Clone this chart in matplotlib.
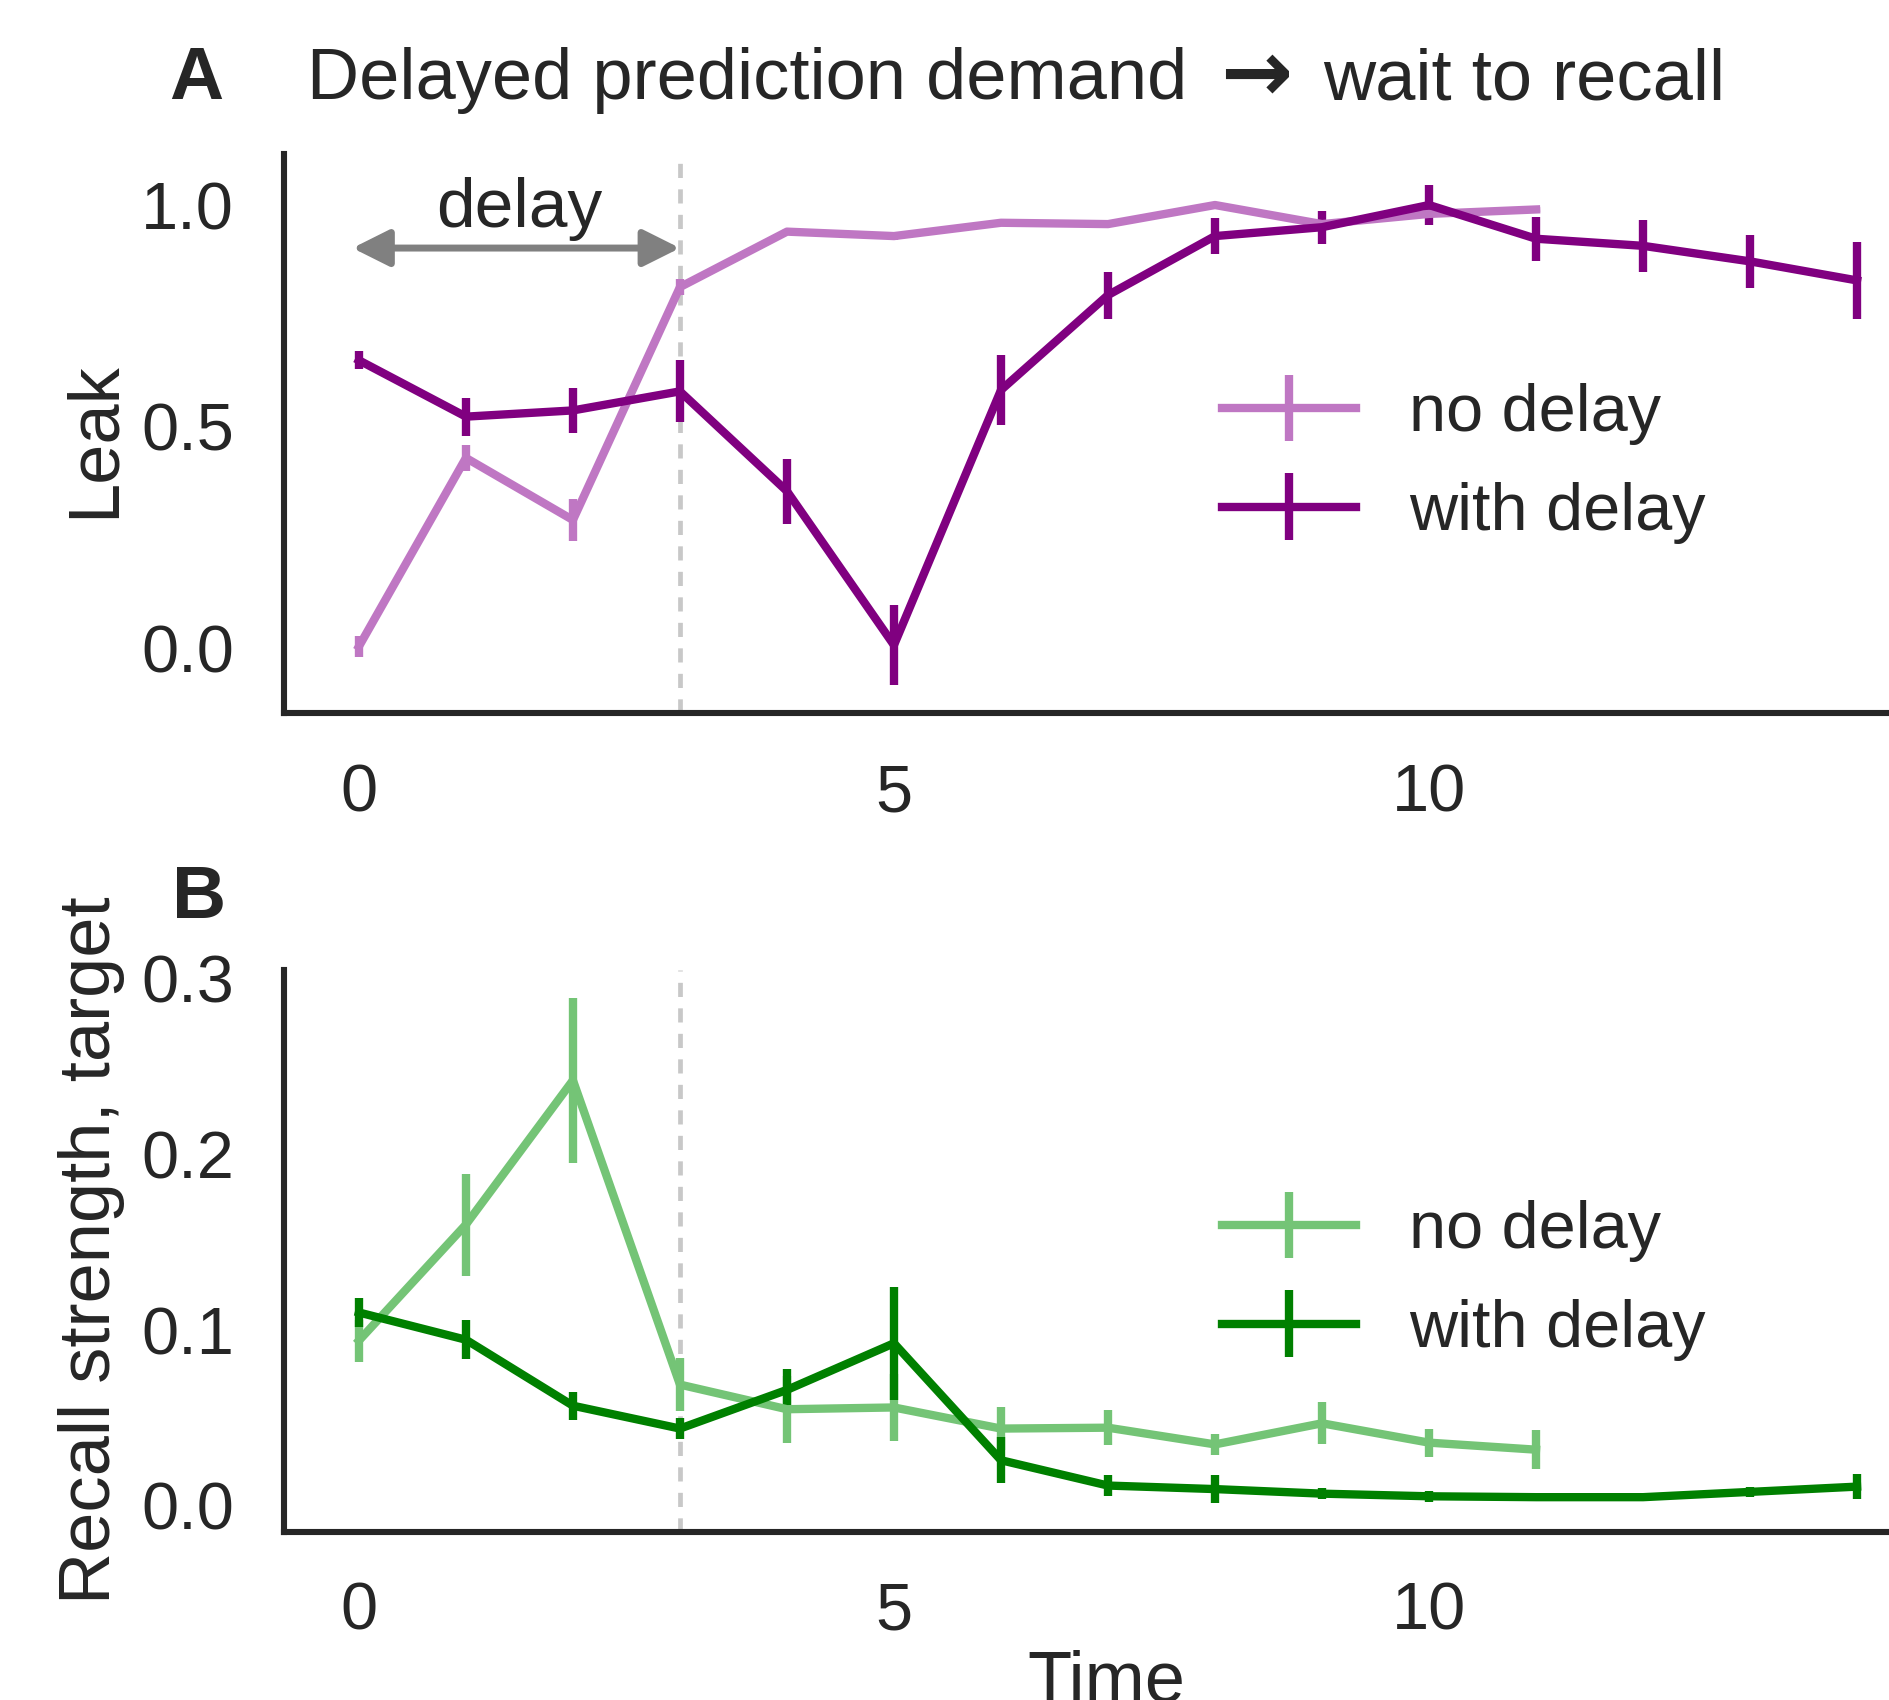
import matplotlib
matplotlib.use("Agg")
import matplotlib.pyplot as plt
import numpy as np

# data
t_nodelay = list(range(12))
t_delay = list(range(15))

leak_nodelay = [0.005, 0.43, 0.29, 0.815, 0.94, 0.93, 0.96, 0.957, 1.0, 0.957, 0.98, 0.99]
leak_nodelay_err = [0.023, 0.03, 0.047, 0.018, 0.005, 0.008, 0.005, 0.005, 0.005, 0.005, 0.01, 0.005]
leak_delay = [0.65, 0.523, 0.537, 0.58, 0.355, 0.008, 0.583, 0.797, 0.93, 0.95, 1.0, 0.924, 0.908, 0.873, 0.83]
leak_delay_err = [0.02, 0.043, 0.05, 0.07, 0.073, 0.09, 0.078, 0.053, 0.04, 0.037, 0.045, 0.05, 0.058, 0.06, 0.087]

recall_nodelay = [0.094, 0.16, 0.242, 0.069, 0.055, 0.056, 0.044, 0.0445, 0.035, 0.047, 0.036, 0.032]
recall_nodelay_err = [0.012, 0.029, 0.047, 0.015, 0.019, 0.019, 0.012, 0.01, 0.006, 0.012, 0.008, 0.011]
recall_delay = [0.11, 0.0945, 0.057, 0.044, 0.066, 0.0925, 0.026, 0.0116, 0.0096, 0.007, 0.0055, 0.005, 0.005, 0.008, 0.011]
recall_delay_err = [0.008, 0.011, 0.008, 0.006, 0.012, 0.032, 0.013, 0.006, 0.008, 0.003, 0.003, 0.001, 0.001, 0.003, 0.007]

delay_end = 3
labels = ["no delay", "with delay"]

light_purple = "#bf77c3"
dark_purple = "#800080"
light_green = "#74c476"
dark_green = "#008000"
text_col = "#262626"

plt.rcParams["font.family"] = ["Liberation Sans", "DejaVu Sans"]
plt.rcParams["text.color"] = text_col
plt.rcParams["axes.edgecolor"] = text_col
plt.rcParams["xtick.color"] = text_col
plt.rcParams["ytick.color"] = text_col

W, H = 1889, 1700
fig = plt.figure(figsize=(W / 200, H / 200), dpi=200)

# axes positions in pixels (left, top, right, bottom) -> figure fraction
def px_axes(left, top, right, bottom):
    return fig.add_axes([left / W, 1 - bottom / H, (right - left) / W, (bottom - top) / H])

axA = px_axes(284, 154, 1932, 713)
axB = px_axes(284, 970, 1932, 1532)

lw = 3.0


def panel(ax, ys, errs, colors, ylim, yticks, leg_y):
    for t, y, e, c, lab in zip([t_nodelay, t_delay], ys, errs, colors, labels):
        ax.errorbar(t, y, yerr=e, color=c, lw=lw, elinewidth=lw, capsize=0, label=lab)
    ax.axvline(delay_end, color="#c8c8c8", lw=1.7, ls=(0, (3, 2.4)), zorder=0)
    ax.set_xlim(-0.7, 14.7)
    ax.set_ylim(*ylim)
    ax.set_yticks(yticks)
    ax.set_xticks([0, 5, 10])
    ax.yaxis.set_major_formatter(matplotlib.ticker.FormatStrFormatter("%.1f"))
    for s in ["top", "right"]:
        ax.spines[s].set_visible(False)
    for s in ["left", "bottom"]:
        ax.spines[s].set_linewidth(2.2)
    ax.tick_params(length=0, pad=18, labelsize=24)
    ax.legend(loc="center left", bbox_to_anchor=(0.533, leg_y), frameon=False,
              fontsize=24, handlelength=2.0, handletextpad=0.8, labelspacing=0.55)


panel(axA, [leak_nodelay, leak_delay], [leak_nodelay_err, leak_delay_err],
      [light_purple, dark_purple], (-0.145, 1.115), [0.0, 0.5, 1.0], 0.446)
panel(axB, [recall_nodelay, recall_delay], [recall_nodelay_err, recall_delay_err],
      [light_green, dark_green], (-0.0148, 0.3047), [0.0, 0.1, 0.2, 0.3], 0.447)

# delay arrow
axA.annotate("", xy=(-0.06, 0.903), xytext=(delay_end, 0.903),
             arrowprops=dict(arrowstyle="<|-|>", color="gray", lw=2.5,
                             mutation_scale=28, shrinkA=0, shrinkB=0))
axA.text(1.5, 0.92, "delay", ha="center", va="bottom", fontsize=25)

# titles and labels
ty = 1 - 99 / H
fig.text(169 / W, ty, "A", fontsize=27, fontweight="bold", va="baseline")
fig.text(307 / W, ty, "Delayed prediction demand", fontsize=26, va="baseline")
fig.text(1256 / W, 1 - 101 / H, "\u2192", fontsize=31, va="baseline", ha="center",
         family="DejaVu Sans", fontweight="bold")
fig.text(1323 / W, ty, "wait to recall", fontsize=26, va="baseline")

fig.text(172 / W, 1 - 918 / H, "B", fontsize=27, fontweight="bold", va="baseline")
fig.text(95 / W, 1 - 440 / H, "Leak", rotation=90, fontsize=26, ha="center", va="center")
fig.text(92 / W, 1 - 1250 / H, "Recall strength, target", rotation=90, fontsize=26,
         ha="center", va="center")
fig.text(1106 / W, 1 - 1650 / H, "Time", fontsize=26, ha="center", va="top")

fig.savefig("out.png", dpi=200)
